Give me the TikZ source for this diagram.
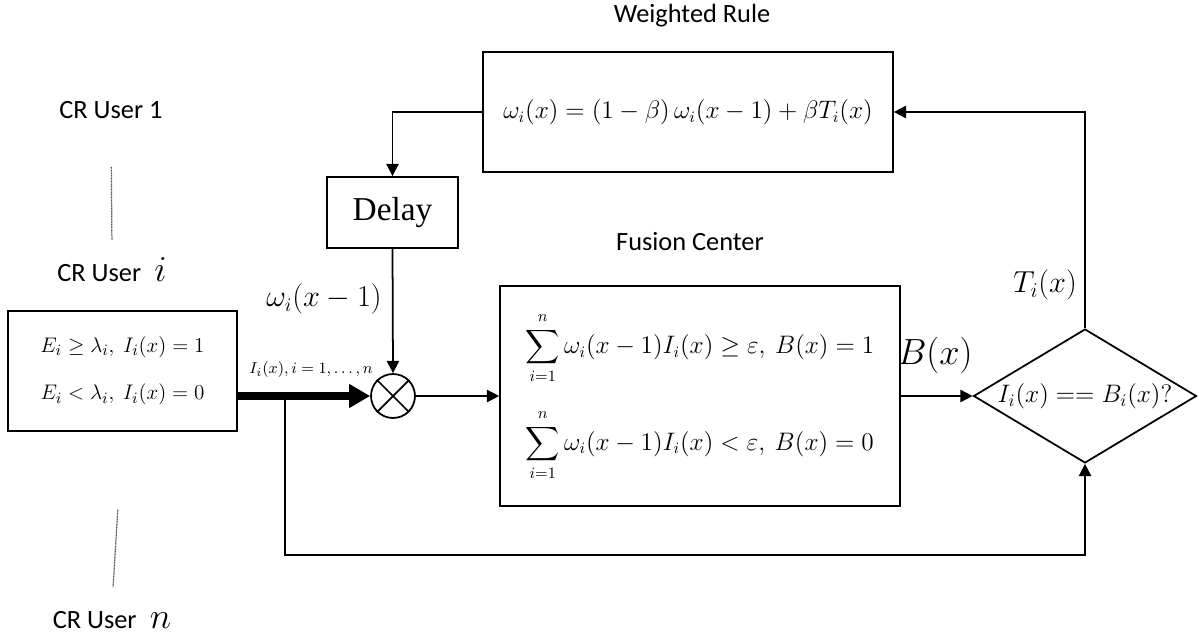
\documentclass[tikz,border=0pt]{standalone}
\usepackage{amsmath,amssymb}
\usepackage{fontspec}
\setmainfont{Carlito}
\newfontfamily\serifrm{Liberation Serif}
\usetikzlibrary{shapes, arrows.meta, positioning}
\tikzset{
  block/.style={draw, line width=1pt, inner sep=0pt},
  check/.style={draw, diamond, line width=1pt, inner sep=0pt, aspect=1.66},
  flow/.style={line width=1pt, -{Triangle[length=7pt,width=7pt]}},
  bus/.style={line width=4.5pt, -{Triangle[length=12pt,width=13pt]}},
  dots/.style={black!65, line width=0.7pt, dash pattern=on 0.6pt off 0.3pt},
  caption/.style={font=\fontsize{15}{17}\selectfont}
}

\begin{document}
\begin{tikzpicture}[x=0.02cm, y=-0.02cm]
\useasboundingbox (0,0) rectangle (1199,639);

% 方框
\node[block, minimum width=8.2cm, minimum height=2.4cm, font=\fontsize{13.5}{16}\selectfont] (rule) at (688,112)
  {$\omega_i(x) = (1-\beta)\,\omega_i(x-1) + \beta T_i(x)$};
\node[block, minimum width=2.62cm, minimum height=1.42cm, font=\serifrm\fontsize{19}{21}\selectfont] (delay) at (392.5,212.5) {Delay};
\node[block, minimum width=4.58cm, minimum height=2.4cm, align=center, font=\fontsize{13}{15}\selectfont] (sensor) at (122.5,371)
  {$E_i \geq \lambda_i,\ I_i(x) = 1$\\[12pt] $E_i < \lambda_i,\ I_i(x) = 0$};
\node[block, circle, minimum size=0.88cm] (mix) at (393,396) {};
\draw[line width=1pt] (mix.45) -- (mix.225) (mix.135) -- (mix.315);
\node[block, minimum width=8cm, minimum height=4.4cm, align=left, font=\fontsize{13.5}{16}\selectfont] (fusion) at (700,396)
  {$\displaystyle\sum_{\mathstrut i=1}^{n\mathstrut}\omega_i(x-1)I_i(x) \geq \varepsilon,\ B(x) = 1$\\[8pt]
   $\displaystyle\sum_{\mathstrut i=1}^{n\mathstrut}\omega_i(x-1)I_i(x) < \varepsilon,\ B(x) = 0$};
\node[check, minimum width=4.46cm, minimum height=2.68cm, font=\fontsize{14}{16}\selectfont] (test) at (1085,396)
  {$I_i(x) == B_i(x)?$};

% 标题
\node[caption] (ruletitle) at (692,16) {Weighted Rule};
\node[caption] (fusiontitle) at (690,242) {Fusion Center};
\node[caption] (user1) at (111,110) {CR User 1};
\node[caption] (useri) at (112,270) {CR User \;{\fontsize{21}{22}\selectfont$i$}};
\node[caption] (usern) at (112,620) {CR User \;{\fontsize{21}{22}\selectfont$n$}};
\draw[dots, shorten <=0.84cm, shorten >=0.24cm] (user1.south) -- (useri.north);
\draw[dots, shorten <=1.56cm, shorten >=0.36cm] (sensor.south) -- (usern.north);

% 连线
\coordinate (tap) at (285,396);
\coordinate (low) at (285,555);
\draw[bus] (sensor.east |- mix.west) -- (mix.west);
\draw[flow] (delay.south) -- (mix.north);
\draw[flow] (mix.east) -- (fusion.west);
\draw[flow] (fusion.east) -- (test.west);
\draw[flow] (test.north) |- (rule.east);
\draw[flow] (rule.west) -| (delay.north);
\draw[flow] (tap) -- (low) -| (test.south);

% 标注
\node[font=\fontsize{16}{18}\selectfont] (wlabel) at (324,299) {$\omega_i(x-1)$};
\node[font=\fontsize{9.5}{11}\selectfont] (ilabel) at (311,370) {$I_i(x), i = 1, \ldots, n$};
\node[font=\fontsize{20}{22}\selectfont] (blabel) at (935,355) {$B(x)$};
\node[font=\fontsize{17}{19}\selectfont] (tlabel) at (1045,285) {$T_i(x)$};
\end{tikzpicture}
\end{document}
